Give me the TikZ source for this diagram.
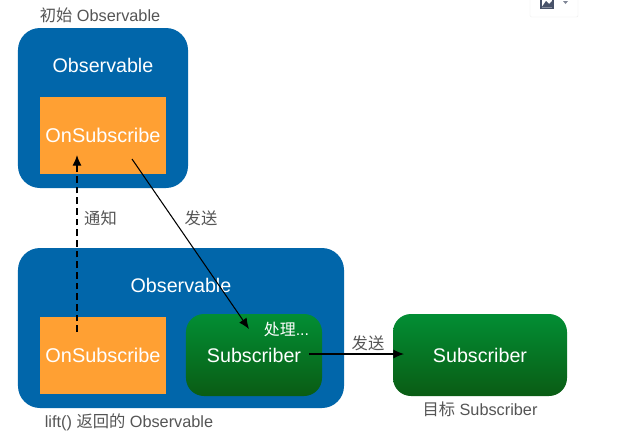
\documentclass[tikz,border=0pt]{standalone}
\usepackage{fontspec}
\setmainfont{Liberation Sans}
\newfontfamily\cjk{Noto Sans CJK SC}
\usetikzlibrary{arrows.meta}
\definecolor{obsblue}{RGB}{1,102,170}
\definecolor{subsorange}{RGB}{255,160,51}
\definecolor{greentop}{RGB}{2,142,52}
\definecolor{greenbot}{RGB}{10,92,20}
\definecolor{captiongray}{RGB}{85,85,85}
\definecolor{iconslate}{RGB}{72,82,105}
\tikzset{
  bluebox/.style={fill=obsblue,rounded corners=0.66cm,inner sep=0pt},
  orangebox/.style={fill=subsorange,inner sep=0pt,text=white,font=\fontsize{17}{20}\selectfont,minimum width=3.78cm,minimum height=2.31cm},
  greenbox/.style={top color=greentop,bottom color=greenbot,rounded corners=0.54cm,inner sep=0pt,text=white,font=\fontsize{16.8}{20}\selectfont,minimum height=2.46cm},
  whitetext/.style={text=white,font=\fontsize{16.8}{20}\selectfont},
  smalltext/.style={text=captiongray,font=\fontsize{13.9}{16}\selectfont},
  arrowline/.style={line width=0.9pt,-{Latex[length=0.32cm,width=0.27cm]}}
}
\begin{document}
\begin{tikzpicture}[x=0.03cm,y=-0.03cm]
\useasboundingbox[fill=white] (0,0) rectangle (639,437);
\draw[black!8,fill=white,rounded corners=0.04cm] (530,-5) rectangle (578,17);
\fill[iconslate] (540,-3) rectangle (553.5,9);
\fill[white] (541.5,-3) rectangle (552,7.5);
\fill[iconslate] (541.5,7.5) -- (546,1) -- (549,4) -- (552,1) -- (552,7.5) -- cycle;
\fill[iconslate!70] (563,1) -- (568,1) -- (565.5,4) -- cycle;
\node[bluebox,minimum width=5.1cm,minimum height=4.8cm] (obsinit) at (103,108) {};
\node[bluebox,minimum width=9.78cm,minimum height=4.8cm] (obslift) at (181,328) {};
\node[orangebox] (oninit) at (103,135.5) {OnSubscribe};
\node[orangebox] (onlift) at (103,355.5) {OnSubscribe};
\node[greenbox,minimum width=4.08cm] (subsmid) at (254,355) {Subscriber};
\node[greenbox,minimum width=5.22cm] (subsend) at (480,355) {Subscriber};
\node[whitetext] (titleinit) at (103,65) {Observable};
\node[whitetext] (titlelift) at (181,285) {Observable};
\node[text=white,font=\fontsize{13.6}{16}\selectfont] (handle) at (286.5,329) {{\cjk 处理}...};
\node[smalltext] (capinit) at (100,15) {{\cjk 初始} Observable};
\node[smalltext] (caplift) at (129,422) {lift() {\cjk 返回的} Observable};
\node[smalltext] (capend) at (480,409) {{\cjk 目标} Subscriber};
\node[smalltext] (notify) at (100.5,218) {\cjk 通知};
\node[smalltext] (sendone) at (201,218) {\cjk 发送};
\node[smalltext] (sendtwo) at (368,343) {\cjk 发送};
\coordinate (notifyfrom) at (77,332);
\coordinate (notifyto) at (77,155);
\coordinate (sendfrom) at (132,159);
\coordinate (sendto) at (249,329);
\coordinate (passfrom) at (309,354);
\coordinate (passto) at (404,354);
\draw[arrowline,dash pattern=on 0.2cm off 0.12cm,line width=1.1pt] (notifyfrom) -- (notifyto);
\draw[arrowline] (sendfrom) -- (sendto);
\draw[arrowline] (passfrom) -- (passto);
\end{tikzpicture}
\end{document}
